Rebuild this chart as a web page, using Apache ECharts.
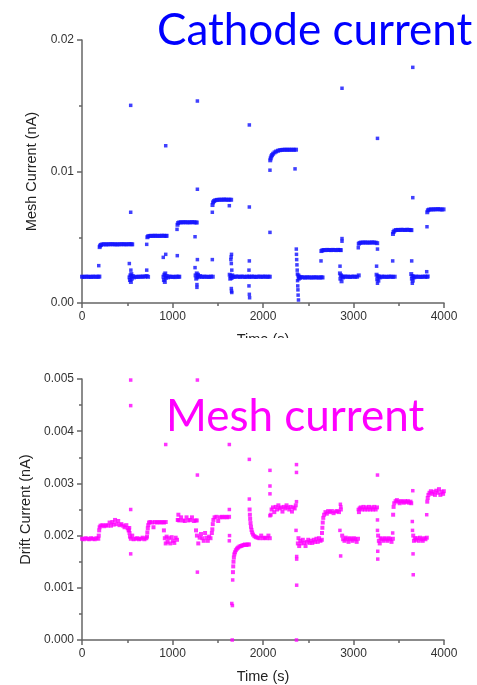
<!DOCTYPE html>
<html><head><meta charset="utf-8">
<script src="https://cdn.jsdelivr.net/npm/echarts@6/dist/echarts.min.js"></script>
<style>html,body{margin:0;padding:0;background:#fff}#c{width:477px;height:685px}</style>
</head><body><div id="c"></div>
<script>
// ---- Data (time in s, current in nA) ----
const xTicks = [0, 1000, 2000, 3000, 4000];
const cathodeYTicks = [0, 0.01, 0.02];
const meshYTicks = [0, 0.001, 0.002, 0.003, 0.004, 0.005];

const cathodeSteady = [
[0,0.00200],[20,0.00198],[40,0.00201],[60,0.00199],[80,0.00200],[100,0.00198],[120,0.00201],[140,0.00199],[160,0.00200],[180,0.00199],[192,0.00201],
[195,0.00425],[200,0.00436],[210,0.00442],[225,0.00446],[245,0.00447],[265,0.00445],[285,0.00447],[305,0.00446],[325,0.00448],[345,0.00446],[365,0.00447],[385,0.00445],[405,0.00447],[425,0.00446],[445,0.00448],[465,0.00446],[485,0.00447],[505,0.00446],[525,0.00448],[545,0.00447],[555,0.00446],
[525,0.00195],[530,0.00175],[535,0.00210],[540,0.00160],[545,0.00220],[550,0.00185],[560,0.00205],[575,0.00195],[595,0.00200],[615,0.00198],[635,0.00201],[655,0.00199],[675,0.00202],[695,0.00200],[715,0.00205],[730,0.00199],
[722,0.00500],[730,0.00507],[745,0.00510],[765,0.00511],[785,0.00510],[805,0.00512],[825,0.00510],[845,0.00511],[865,0.00510],[885,0.00512],[905,0.00511],[925,0.00510],[935,0.00511],
[900,0.00200],[905,0.00175],[910,0.00215],[915,0.00160],[920,0.00225],[925,0.00190],[935,0.00205],[950,0.00195],[965,0.00202],[985,0.00198],[1005,0.00200],[1025,0.00197],[1045,0.00201],[1065,0.00199],[1075,0.00200],
[1055,0.00595],[1062,0.00608],[1075,0.00613],[1095,0.00614],[1115,0.00613],[1135,0.00615],[1155,0.00613],[1175,0.00614],[1195,0.00613],[1215,0.00615],[1235,0.00614],[1255,0.00613],[1268,0.00612],
[1255,0.00210],[1262,0.00185],[1268,0.00225],[1275,0.00195],[1282,0.00215],[1290,0.00200],[1305,0.00205],[1325,0.00198],[1345,0.00201],[1365,0.00199],[1385,0.00200],[1405,0.00198],[1425,0.00201],[1445,0.00200],
[1442,0.00745],[1448,0.00765],[1458,0.00775],[1472,0.00781],[1490,0.00784],[1510,0.00785],[1530,0.00786],[1550,0.00785],[1570,0.00787],[1590,0.00786],[1610,0.00785],[1630,0.00786],[1648,0.00785],
[1632,0.00215],[1638,0.00185],[1645,0.00205],[1652,0.00190],[1660,0.00210],[1670,0.00200],[1685,0.00198],[1705,0.00202],[1725,0.00200],[1745,0.00199],[1765,0.00201],[1785,0.00200],[1805,0.00198],[1825,0.00201],[1845,0.00200],[1860,0.00199],[1880,0.00201],[1900,0.00200],[1920,0.00198],[1940,0.00200],[1960,0.00201],[1980,0.00199],[2000,0.00200],[2020,0.00201],[2040,0.00199],[2060,0.00200],[2075,0.00200],
[2080,0.01085],[2085,0.01100],[2092,0.01115],[2100,0.01125],[2112,0.01135],[2128,0.01145],[2145,0.01152],[2165,0.01158],[2185,0.01162],[2205,0.01164],[2225,0.01165],[2245,0.01166],[2265,0.01165],[2285,0.01166],[2305,0.01165],[2325,0.01166],[2345,0.01165],[2365,0.01166],
[2390,0.00210],[2395,0.00185],[2400,0.00200],[2410,0.00192],[2425,0.00197],[2445,0.00195],[2465,0.00193],[2485,0.00196],[2505,0.00194],[2525,0.00195],[2545,0.00193],[2565,0.00196],[2585,0.00194],[2605,0.00195],[2625,0.00193],[2645,0.00196],[2658,0.00194],
[2645,0.00395],[2655,0.00400],[2670,0.00403],[2690,0.00402],[2710,0.00404],[2730,0.00403],[2750,0.00402],[2770,0.00404],[2790,0.00403],[2810,0.00402],[2830,0.00404],[2850,0.00403],[2860,0.00402],
[2850,0.00225],[2855,0.00185],[2862,0.00210],[2868,0.00165],[2875,0.00200],[2885,0.00195],[2900,0.00202],[2920,0.00199],[2940,0.00201],[2960,0.00198],[2980,0.00200],[3000,0.00201],[3020,0.00199],[3040,0.00200],[3058,0.00210],
[3058,0.00450],[3068,0.00457],[3085,0.00460],[3105,0.00459],[3125,0.00461],[3145,0.00459],[3165,0.00460],[3185,0.00459],[3205,0.00461],[3225,0.00460],[3245,0.00459],[3262,0.00455],
[3255,0.00215],[3262,0.00180],[3268,0.00205],[3275,0.00170],[3282,0.00200],[3295,0.00195],[3315,0.00201],[3335,0.00199],[3355,0.00200],[3375,0.00198],[3395,0.00201],[3415,0.00200],[3435,0.00199],[3455,0.00200],
[3436,0.00525],[3442,0.00540],[3452,0.00550],[3470,0.00555],[3490,0.00556],[3510,0.00555],[3530,0.00557],[3550,0.00556],[3570,0.00555],[3590,0.00557],[3610,0.00556],[3630,0.00555],[3640,0.00554],
[3638,0.00220],[3645,0.00185],[3650,0.00205],[3655,0.00170],[3662,0.00200],[3672,0.00195],[3690,0.00201],[3710,0.00199],[3730,0.00200],[3750,0.00198],[3770,0.00201],[3790,0.00200],[3810,0.00199],[3820,0.00202],
[3815,0.00690],[3822,0.00705],[3835,0.00710],[3855,0.00712],[3875,0.00711],[3895,0.00713],[3915,0.00712],[3935,0.00714],[3955,0.00712],[3975,0.00711],[3995,0.00712]
];

const cathodeSpikes = [
[185,0.00284],[523,0.00300],[538,0.01503],[538,0.00690],[540,0.00250],[715,0.00250],[715,0.00446],[898,0.00347],[925,0.00370],[925,0.01196],
[1053,0.00360],[1050,0.00560],[1249,0.00504],[1249,0.00269],[1275,0.01536],[1275,0.00865],[1275,0.00330],[1270,0.00119],[1270,0.00140],
[1440,0.00330],[1440,0.00690],[1628,0.00740],[1645,0.00330],[1648,0.00350],[1652,0.00370],[1650,0.00300],[1655,0.00250],[1650,0.00110],[1652,0.00090],[1655,0.00080],
[1849,0.01354],[1849,0.00730],[1849,0.00320],[1845,0.00250],[1845,0.00130],[1849,0.00066],[1852,0.00040],[2077,0.00537],[2077,0.01010],
[2354,0.01020],[2368,0.00410],[2370,0.00370],[2372,0.00330],[2375,0.00290],[2378,0.00250],[2380,0.00220],[2382,0.00170],[2384,0.00130],[2386,0.00100],[2388,0.00060],[2392,0.00023],
[2641,0.00320],[2851,0.00280],[2873,0.01633],[2873,0.00490],[2873,0.00470],[3053,0.00420],[3265,0.00410],[3265,0.01252],[3255,0.00280],[3265,0.00150],
[3433,0.00320],[3643,0.00320],[3655,0.01792],[3655,0.00801],[3650,0.00150],[3809,0.00238],[3812,0.00580]
];

const meshSteady = [
[0,0.00194],[20,0.00193],[40,0.00195],[60,0.00194],[80,0.00193],[100,0.00195],[120,0.00194],[140,0.00193],[160,0.00195],[180,0.00194],
[185,0.00200],[190,0.00210],[195,0.00216],[205,0.00219],[225,0.00220],[245,0.00218],[265,0.00220],[285,0.00219],[305,0.00225],[320,0.00219],[335,0.00226],[350,0.00221],[365,0.00230],[380,0.00222],[400,0.00228],[415,0.00220],[435,0.00222],[455,0.00219],[470,0.00216],[490,0.00220],[505,0.00214],[515,0.00210],
[525,0.00205],[530,0.00198],[540,0.00194],[555,0.00200],[570,0.00193],[590,0.00194],[610,0.00195],[630,0.00193],[650,0.00194],[670,0.00196],[690,0.00193],[710,0.00195],
[718,0.00198],[722,0.00206],[727,0.00214],[732,0.00220],[740,0.00225],[755,0.00226],[775,0.00225],[790,0.00216],[805,0.00226],[825,0.00225],[845,0.00226],[865,0.00225],[885,0.00226],[905,0.00225],[925,0.00226],
[905,0.00210],[915,0.00195],[925,0.00185],[935,0.00198],[945,0.00188],[960,0.00195],[975,0.00185],[990,0.00197],[1005,0.00190],[1020,0.00186],[1035,0.00196],[1050,0.00192],
[1058,0.00230],[1065,0.00240],[1075,0.00229],[1095,0.00235],[1115,0.00229],[1135,0.00228],[1155,0.00235],[1175,0.00229],[1195,0.00230],[1215,0.00235],[1235,0.00228],[1255,0.00229],[1268,0.00229],
[1260,0.00210],[1270,0.00200],[1285,0.00185],[1300,0.00196],[1315,0.00203],[1330,0.00195],[1345,0.00190],[1360,0.00205],[1375,0.00196],[1390,0.00190],[1405,0.00198],[1420,0.00195],[1435,0.00205],
[1440,0.00212],[1445,0.00222],[1452,0.00230],[1465,0.00235],[1485,0.00236],[1505,0.00228],[1525,0.00235],[1545,0.00236],[1565,0.00235],[1585,0.00236],[1605,0.00235],[1625,0.00236],
[1668,0.00130],[1671,0.00141],[1674,0.00150],[1678,0.00158],[1683,0.00164],[1690,0.00168],[1700,0.00172],[1712,0.00175],[1725,0.00177],[1740,0.00179],[1755,0.00180],[1770,0.00181],[1785,0.00182],[1800,0.00183],[1815,0.00182],[1830,0.00183],[1845,0.00183],
[1852,0.00250],[1855,0.00240],[1858,0.00232],[1862,0.00224],[1867,0.00217],[1873,0.00211],[1880,0.00206],[1890,0.00202],[1905,0.00199],[1920,0.00197],[1940,0.00196],[1960,0.00195],[1980,0.00200],[2000,0.00195],[2020,0.00196],[2040,0.00195],[2060,0.00200],[2075,0.00195],
[2085,0.00240],[2095,0.00250],[2110,0.00254],[2125,0.00245],[2140,0.00255],[2155,0.00250],[2170,0.00258],[2185,0.00252],[2200,0.00254],[2215,0.00246],[2230,0.00255],[2245,0.00252],[2260,0.00258],[2275,0.00254],[2290,0.00250],[2305,0.00255],[2320,0.00246],[2335,0.00254],[2350,0.00252],[2362,0.00258],
[2385,0.00185],[2392,0.00195],[2400,0.00180],[2412,0.00190],[2425,0.00185],[2440,0.00192],[2455,0.00186],[2470,0.00180],[2485,0.00188],[2500,0.00192],[2515,0.00186],[2530,0.00190],[2545,0.00186],[2560,0.00192],[2575,0.00188],[2590,0.00194],[2605,0.00188],[2620,0.00195],[2635,0.00190],[2650,0.00192],
[2652,0.00205],[2656,0.00215],[2660,0.00225],[2666,0.00234],[2675,0.00240],[2690,0.00245],[2705,0.00242],[2720,0.00247],[2740,0.00245],[2760,0.00247],[2780,0.00243],[2800,0.00246],[2820,0.00247],[2840,0.00245],[2860,0.00250],
[2875,0.00200],[2885,0.00193],[2900,0.00190],[2915,0.00196],[2930,0.00193],[2945,0.00188],[2960,0.00195],[2975,0.00193],[2990,0.00190],[3005,0.00195],[3020,0.00193],[3035,0.00188],[3050,0.00194],
[3060,0.00245],[3068,0.00252],[3080,0.00254],[3095,0.00250],[3110,0.00255],[3125,0.00250],[3140,0.00254],[3155,0.00250],[3170,0.00255],[3185,0.00250],[3200,0.00254],[3215,0.00250],[3230,0.00255],[3245,0.00250],[3260,0.00254],
[3272,0.00200],[3280,0.00190],[3290,0.00185],[3300,0.00195],[3315,0.00193],[3330,0.00190],[3345,0.00195],[3360,0.00193],[3375,0.00190],[3390,0.00195],[3405,0.00193],[3420,0.00188],[3435,0.00194],
[3438,0.00240],[3443,0.00255],[3450,0.00262],[3465,0.00266],[3480,0.00268],[3495,0.00265],[3510,0.00262],[3525,0.00266],[3540,0.00265],[3555,0.00263],[3570,0.00266],[3585,0.00264],[3600,0.00266],[3615,0.00263],[3630,0.00265],[3638,0.00262],
[3660,0.00200],[3668,0.00190],[3678,0.00195],[3690,0.00192],[3705,0.00195],[3720,0.00190],[3735,0.00196],[3750,0.00193],[3765,0.00190],[3780,0.00195],[3795,0.00193],[3810,0.00196],
[3815,0.00265],[3820,0.00272],[3828,0.00278],[3840,0.00282],[3855,0.00285],[3870,0.00280],[3885,0.00284],[3900,0.00278],[3915,0.00286],[3930,0.00282],[3945,0.00289],[3960,0.00278],[3975,0.00284],[3990,0.00280],[3998,0.00285]
];

const meshSpikes = [
[520,0.00210],[525,0.00215],[538,0.00498],[538,0.00449],[538,0.00250],[538,0.00165],[925,0.003745],[1062,0.00230],
[1275,0.00498],[1275,0.00316],[1275,0.00130],[1628,0.003745],[1628,0.00250],[1628,0.00190],[1630,0.00200],
[1655,0.00070],[1662,0.00066],[1660,0.00000],[1665,0.00115],[1849,0.00346],[1849,0.00270],
[2077,0.00325],[2077,0.00295],[2077,0.00280],[2077,0.00238],
[2370,0.00336],[2370,0.00321],[2370,0.00265],[2365,0.00210],[2372,0.00160],[2372,0.00155],[2372,0.00105],[2370,0.00000],
[2855,0.00260],[2850,0.00210],[2858,0.00161],[2860,0.00255],[3053,0.00250],
[3265,0.00316],[3265,0.00230],[3265,0.00210],[3268,0.00155],[3268,0.00170],[3433,0.00205],
[3655,0.00286],[3650,0.00227],[3658,0.00165],[3660,0.00125],[3652,0.00210],[3809,0.00240]
];

// ---- Chart ----
const blue = '#1010ff';
const magenta = '#ff00ff';
const axisColor = '#666666';
const font = 'Liberation Sans, Arial, sans-serif';

function xAxis(gi) {
  return {
    type: 'value', gridIndex: gi, min: xTicks[0], max: xTicks[xTicks.length-1], interval: 1000,
    name: 'Time (s)', nameLocation: 'middle', nameGap: 29,
    nameTextStyle: {fontFamily: font, fontSize: 14.5, color: '#222'},
    axisLine: {show: true, onZero: false, lineStyle: {color: axisColor, width: 1.5}},
    axisTick: {show: true, length: 5, lineStyle: {color: axisColor, width: 1.5}},
    minorTick: {show: true, splitNumber: 2, length: 3, lineStyle: {color: axisColor, width: 1.5}},
    splitLine: {show: false}, minorSplitLine: {show: false},
    axisLabel: {fontFamily: font, fontSize: 12, color: '#333', margin: 8, formatter: v => String(v)}
  };
}
function yAxis(gi, ticks, dec, name, gap) {
  return {
    type: 'value', gridIndex: gi, min: ticks[0], max: ticks[ticks.length-1], interval: ticks[1]-ticks[0],
    name: name, nameLocation: 'middle', nameGap: gap, nameRotate: 90,
    nameTextStyle: {fontFamily: font, fontSize: 14.5, color: '#222'},
    axisLine: {show: true, onZero: false, lineStyle: {color: axisColor, width: 1.5}},
    axisTick: {show: true, length: 5, lineStyle: {color: axisColor, width: 1.5}},
    minorTick: {show: true, splitNumber: 2, length: 3, lineStyle: {color: axisColor, width: 1.5}},
    splitLine: {show: false}, minorSplitLine: {show: false},
    axisLabel: {fontFamily: font, fontSize: 12, color: '#333', margin: 8, formatter: v => v.toFixed(dec)}
  };
}
function sc(gi, data, color, size) {
  return {type: 'scatter', xAxisIndex: gi, yAxisIndex: gi, data: data, symbol: 'rect', symbolSize: size,
    itemStyle: {color: color}, clip: false, silent: true, animation: false};
}

const chart = echarts.init(document.getElementById('c'), null, {renderer: 'canvas'});
chart.setOption({
  animation: false,
  backgroundColor: '#fff',
  grid: [
    {left: 82, top: 40, width: 362, height: 263},
    {left: 82, top: 379, width: 362, height: 263}
  ],
  xAxis: [xAxis(0), xAxis(1)],
  yAxis: [yAxis(0, cathodeYTicks, 2, 'Mesh Current (nA)', 40), yAxis(1, meshYTicks, 3, 'Drift Current (nA)', 47)],
  series: [
    sc(0, cathodeSteady, blue, 4), sc(0, cathodeSpikes, blue, 3.5),
    sc(1, meshSteady, magenta, 4), sc(1, meshSpikes, magenta, 3.5)
  ],
  graphic: [
    {type: 'rect', z: 100, shape: {x: 0, y: 338, width: 477, height: 12}, style: {fill: '#fff'}},
    {type: 'text', z: 101, x: 157, y: 9, style: {text: 'Cathode current', font: '44px Lato', fill: '#0000ff', verticalAlign: 'top'}},
    {type: 'text', z: 101, x: 166, y: 395, style: {text: 'Mesh current', font: '44px Lato', fill: magenta, verticalAlign: 'top'}}
  ]
});
</script></body></html>
